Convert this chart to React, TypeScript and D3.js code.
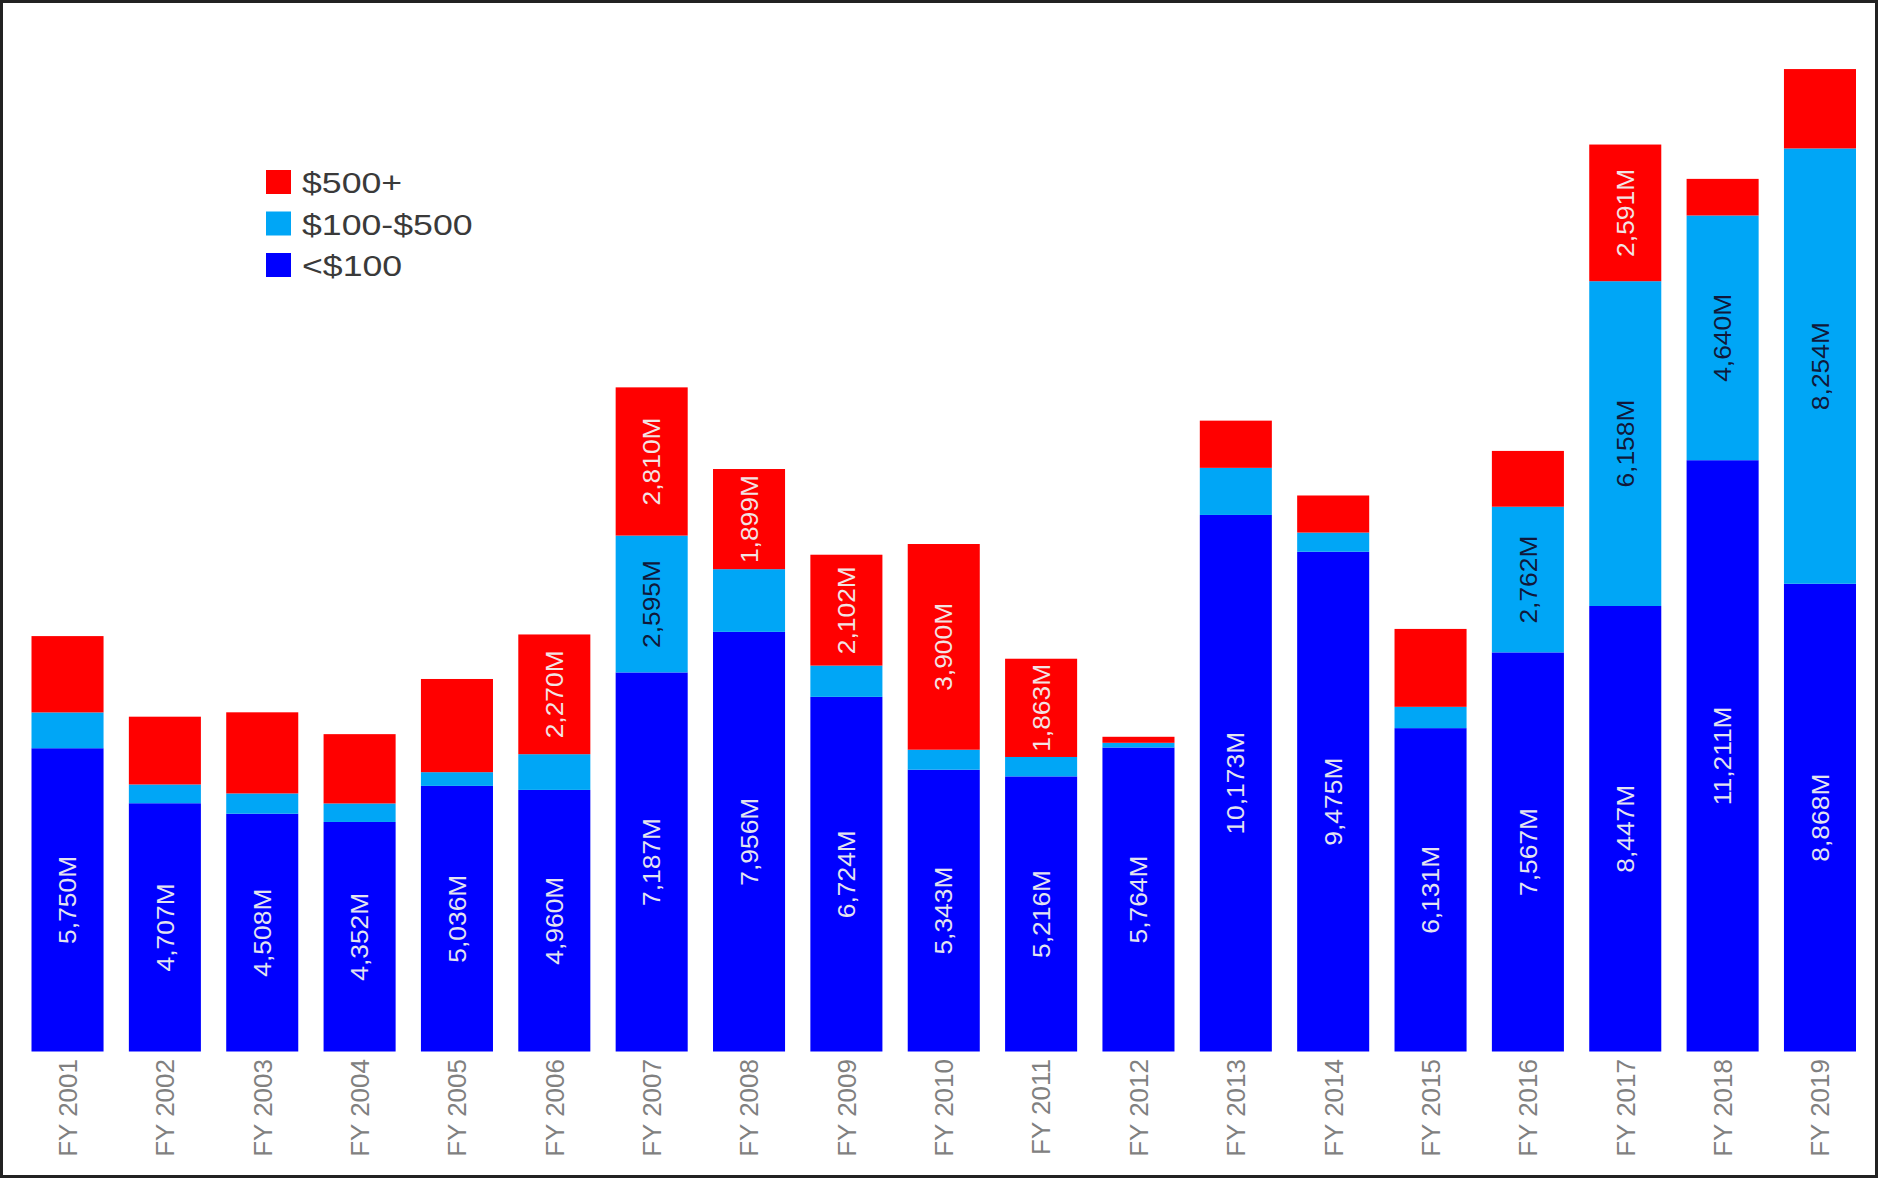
import React from "react";
import * as d3 from "d3";

const years = ["FY 2001","FY 2002","FY 2003","FY 2004","FY 2005","FY 2006","FY 2007","FY 2008","FY 2009","FY 2010","FY 2011","FY 2012","FY 2013","FY 2014","FY 2015","FY 2016","FY 2017","FY 2018","FY 2019"];
const under100 = [5750,4707,4508,4352,5036,4960,7187,7956,6724,5343,5216,5764,10173,9475,6131,7567,8447,11211,8868];
const from100to500 = [679,356,385,351,260,677,2595,1189,593,379,368,89,893,364,404,2762,6158,4640,8254];
const over500 = [1447,1285,1538,1314,1767,2270,2810,1899,2102,3900,1863,114,895,703,1477,1058,2591,694,1505];

const seriesKeys = ["under100", "from100to500", "over500"];
const seriesNames = ["<$100", "$100-$500", "$500+"];
const seriesColors = ["#0000ff", "#00a6f6", "#ff0000"];
const labelColors = ["#e4e4f0", "#10183a", "#f2e4e4"];
const labelThreshold = 1800;

const W = 1878;
const H = 1178;

export default function App() {
  const rows = years.map((y, i) => ({
    year: y,
    under100: under100[i],
    from100to500: from100to500[i],
    over500: over500[i],
  }));
  const stack = d3.stack<any>().keys(seriesKeys);
  const stacked = stack(rows);

  const x = d3.scaleBand<string>().domain(years).range([31.5, 1856]).paddingInner(0.26).paddingOuter(0);
  const base = 1051.5;
  const y = d3.scaleLinear().domain([0, 20000]).range([base, base - 20000 / 18.96]);

  const fmt = d3.format(",");
  const font = "'Liberation Sans', Arial, sans-serif";

  const legendOrder = [2, 1, 0];

  return (
    <svg width={W} height={H} style={{ position: "absolute", left: 0, top: 0, display: "block", background: "#fff" }}>
      <rect x={0} y={0} width={W} height={H} fill="#ffffff" />
      {stacked.map((s, si) => (
        <g key={s.key}>
          {s.map((d, i) => {
            const x0 = x(years[i]) as number;
            const y0 = y(d[1]);
            const y1 = y(d[0]);
            return (
              <rect key={i} x={x0} y={y0} width={x.bandwidth()} height={y1 - y0} fill={seriesColors[si]} />
            );
          })}
        </g>
      ))}
      {stacked.map((s, si) => (
        <g key={"lab" + s.key}>
          {s.map((d, i) => {
            const v = d[1] - d[0];
            if (v < labelThreshold) return null;
            const cx = (x(years[i]) as number) + x.bandwidth() / 2;
            const cy = (y(d[0]) + y(d[1])) / 2;
            return (
              <text
                key={i}
                transform={`translate(${cx},${cy}) rotate(-90) scale(1.1,1)`}
                textAnchor="middle"
                dy="0.36em"
                fontFamily={font}
                fontSize={24}
                fill={labelColors[si]}
              >
                {fmt(v) + "M"}
              </text>
            );
          })}
        </g>
      ))}
      <g>
        {years.map((yr) => {
          const cx = (x(yr) as number) + x.bandwidth() / 2;
          return (
            <text
              key={yr}
              transform={`translate(${cx},1059) rotate(-90)`}
              textAnchor="end"
              dy="0.36em"
              fontFamily={font}
              fontSize={26}
              fill="#808080"
            >
              {yr}
            </text>
          );
        })}
      </g>
      <g>
        {legendOrder.map((si, k) => (
          <g key={si} transform={`translate(266,${170 + k * 41.5})`}>
            <rect x={0} y={0} width={25} height={24} fill={seriesColors[si]} />
            <text
              transform="translate(36,23) scale(1.23,1)"
              fontFamily={font}
              fontSize={29}
              fill="#3a3a3a"
            >
              {seriesNames[si]}
            </text>
          </g>
        ))}
      </g>
      <rect x={1.5} y={1.5} width={W - 3} height={H - 3} fill="none" stroke="#222" strokeWidth={3} />
    </svg>
  );
}
